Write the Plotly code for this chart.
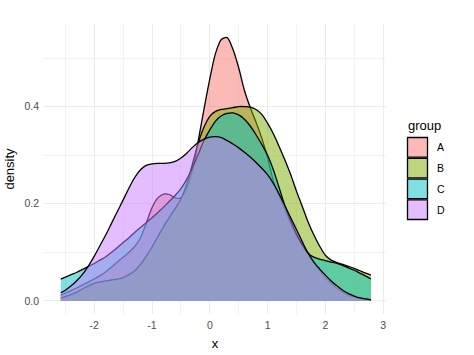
import plotly.graph_objects as go

# ---- data ----
groups = ["A", "B", "C", "D"]
fill_colors = ["rgba(248,118,109,0.5)", "rgba(124,174,0,0.5)", "rgba(0,191,196,0.5)", "rgba(199,124,255,0.5)"]

x_grid = [-2.58, -2.5, -2.4, -2.3, -2.2, -2.1, -2.0, -1.9, -1.8, -1.7, -1.6, -1.5, -1.4, -1.3,
          -1.2, -1.1, -1.0, -0.9, -0.8, -0.7, -0.6, -0.5, -0.4, -0.3, -0.2, -0.1, 0.0, 0.1,
          0.2, 0.3, 0.4, 0.5, 0.6, 0.7, 0.8, 0.9, 1.0, 1.1, 1.2, 1.3, 1.4, 1.5, 1.6, 1.7,
          1.8, 1.9, 2.0, 2.1, 2.2, 2.3, 2.4, 2.5, 2.6, 2.7, 2.79]

dens_A = [0.012, 0.016, 0.021, 0.027, 0.033, 0.039, 0.045, 0.052, 0.060, 0.070, 0.080, 0.090, 0.100, 0.112,
          0.130, 0.160, 0.192, 0.212, 0.220, 0.219, 0.212, 0.212, 0.232, 0.270, 0.330, 0.395, 0.457, 0.510,
          0.538, 0.542, 0.518, 0.480, 0.433, 0.398, 0.368, 0.335, 0.295, 0.247, 0.216, 0.188, 0.160, 0.135, 0.117, 0.100,
          0.080, 0.063, 0.048, 0.036, 0.026, 0.018, 0.012, 0.008, 0.005, 0.003, 0.002]

dens_B = [0.006, 0.009, 0.013, 0.018, 0.025, 0.031, 0.036, 0.039, 0.041, 0.043, 0.045, 0.048, 0.054, 0.062,
          0.075, 0.092, 0.111, 0.132, 0.153, 0.172, 0.190, 0.210, 0.240, 0.282, 0.325, 0.358, 0.380, 0.390,
          0.394, 0.396, 0.398, 0.400, 0.400, 0.399, 0.394, 0.384, 0.366, 0.344, 0.318, 0.290, 0.260, 0.226, 0.195, 0.163,
          0.136, 0.113, 0.094, 0.084, 0.079, 0.075, 0.071, 0.067, 0.062, 0.057, 0.053]

dens_C = [0.045, 0.049, 0.054, 0.059, 0.065, 0.071, 0.077, 0.084, 0.091, 0.100, 0.110, 0.120, 0.130, 0.141,
          0.151, 0.161, 0.171, 0.182, 0.193, 0.205, 0.217, 0.231, 0.250, 0.274, 0.302, 0.330, 0.352, 0.370,
          0.381, 0.386, 0.387, 0.383, 0.374, 0.360, 0.342, 0.322, 0.300, 0.270, 0.233, 0.196, 0.165, 0.138, 0.115, 0.098,
          0.090, 0.086, 0.083, 0.080, 0.077, 0.073, 0.068, 0.063, 0.057, 0.051, 0.045]

dens_D = [0.017, 0.022, 0.031, 0.042, 0.055, 0.072, 0.092, 0.114, 0.136, 0.160, 0.184, 0.208, 0.232, 0.254,
          0.270, 0.279, 0.282, 0.283, 0.283, 0.284, 0.287, 0.294, 0.304, 0.316, 0.326, 0.333, 0.337, 0.338,
          0.336, 0.330, 0.323, 0.315, 0.306, 0.296, 0.285, 0.273, 0.260, 0.242, 0.220, 0.196, 0.171, 0.147, 0.122, 0.098,
          0.080, 0.066, 0.053, 0.041, 0.031, 0.022, 0.015, 0.010, 0.006, 0.004, 0.002]

series = [dens_A, dens_B, dens_C, dens_D]

x_ticks = [-2, -1, 0, 1, 2, 3]
y_ticks = [0.0, 0.2, 0.4]
y_tick_labels = ["0.0", "0.2", "0.4"]

# ---- figure ----
W, H = 474, 355
ML, MR, MT, MB = 44, 88, 24, 41
PW, PH = W - ML - MR, H - MT - MB

FONT = "Liberation Sans, Arial, Helvetica, sans-serif"

fig = go.Figure()
for g, col, ys in zip(groups, fill_colors, series):
    fig.add_trace(go.Scatter(
        x=x_grid, y=ys, name=g, mode="lines",
        line=dict(color="black", width=1.3, shape="spline", smoothing=0.8),
        fill="tozeroy", fillcolor=col, showlegend=False, hoverinfo="skip",
    ))

fig.update_layout(
    width=W, height=H,
    margin=dict(l=ML, r=MR, t=MT, b=MB, autoexpand=False),
    paper_bgcolor="white", plot_bgcolor="white",
    font=dict(family=FONT, color="black"),
    xaxis=dict(
        range=[-2.87, 3.05], tickvals=x_ticks, ticktext=[str(v) for v in x_ticks],
        showgrid=True, gridcolor="#EBEBEB", gridwidth=1.1, zeroline=False, showline=False,
        tickfont=dict(size=10.5, color="#4D4D4D"), ticks="", automargin=False,
        ticklabelstandoff=3,
        minor=dict(dtick=0.5, showgrid=True, gridcolor="#F2F2F2", gridwidth=0.6),
        title=dict(text="x", font=dict(size=13), standoff=9),
    ),
    yaxis=dict(
        range=[-0.027, 0.57], tickvals=y_ticks, ticktext=y_tick_labels,
        showgrid=True, gridcolor="#EBEBEB", gridwidth=1.1, zeroline=False, showline=False,
        tickfont=dict(size=10.5, color="#4D4D4D"), ticks="", automargin=False,
        ticklabelstandoff=4,
        minor=dict(dtick=0.1, showgrid=True, gridcolor="#F2F2F2", gridwidth=0.6),
        title=dict(text="density", font=dict(size=13), standoff=6),
    ),
)

# ---- manual legend (ggplot-style square keys) ----
def px_to_paper_x(px):
    return (px - ML) / PW

def py_to_paper_y(py):
    return (MT + PH - py) / PH

fig.add_annotation(x=px_to_paper_x(406), y=py_to_paper_y(125), xref="paper", yref="paper",
                   text="group", showarrow=False, xanchor="left", yanchor="middle",
                   font=dict(size=13, color="black", family=FONT))

key_top = 137.5
key_step = 20.8
for i, (g, col) in enumerate(zip(groups, fill_colors)):
    top = key_top + i * key_step
    bot = top + key_step - 1.2
    fig.add_shape(type="rect", xref="paper", yref="paper",
                  x0=px_to_paper_x(407.5), x1=px_to_paper_x(427.5),
                  y0=py_to_paper_y(bot), y1=py_to_paper_y(top),
                  fillcolor=col, line=dict(color="black", width=1.3), layer="above")
    fig.add_annotation(x=px_to_paper_x(435), y=py_to_paper_y((top + bot) / 2), xref="paper", yref="paper",
                       text=g, showarrow=False, xanchor="left", yanchor="middle",
                       font=dict(size=10.5, color="black", family=FONT))

fig.write_html("out.html", config={"displayModeBar": False},
               post_script="document.body.style.margin='0px';")
